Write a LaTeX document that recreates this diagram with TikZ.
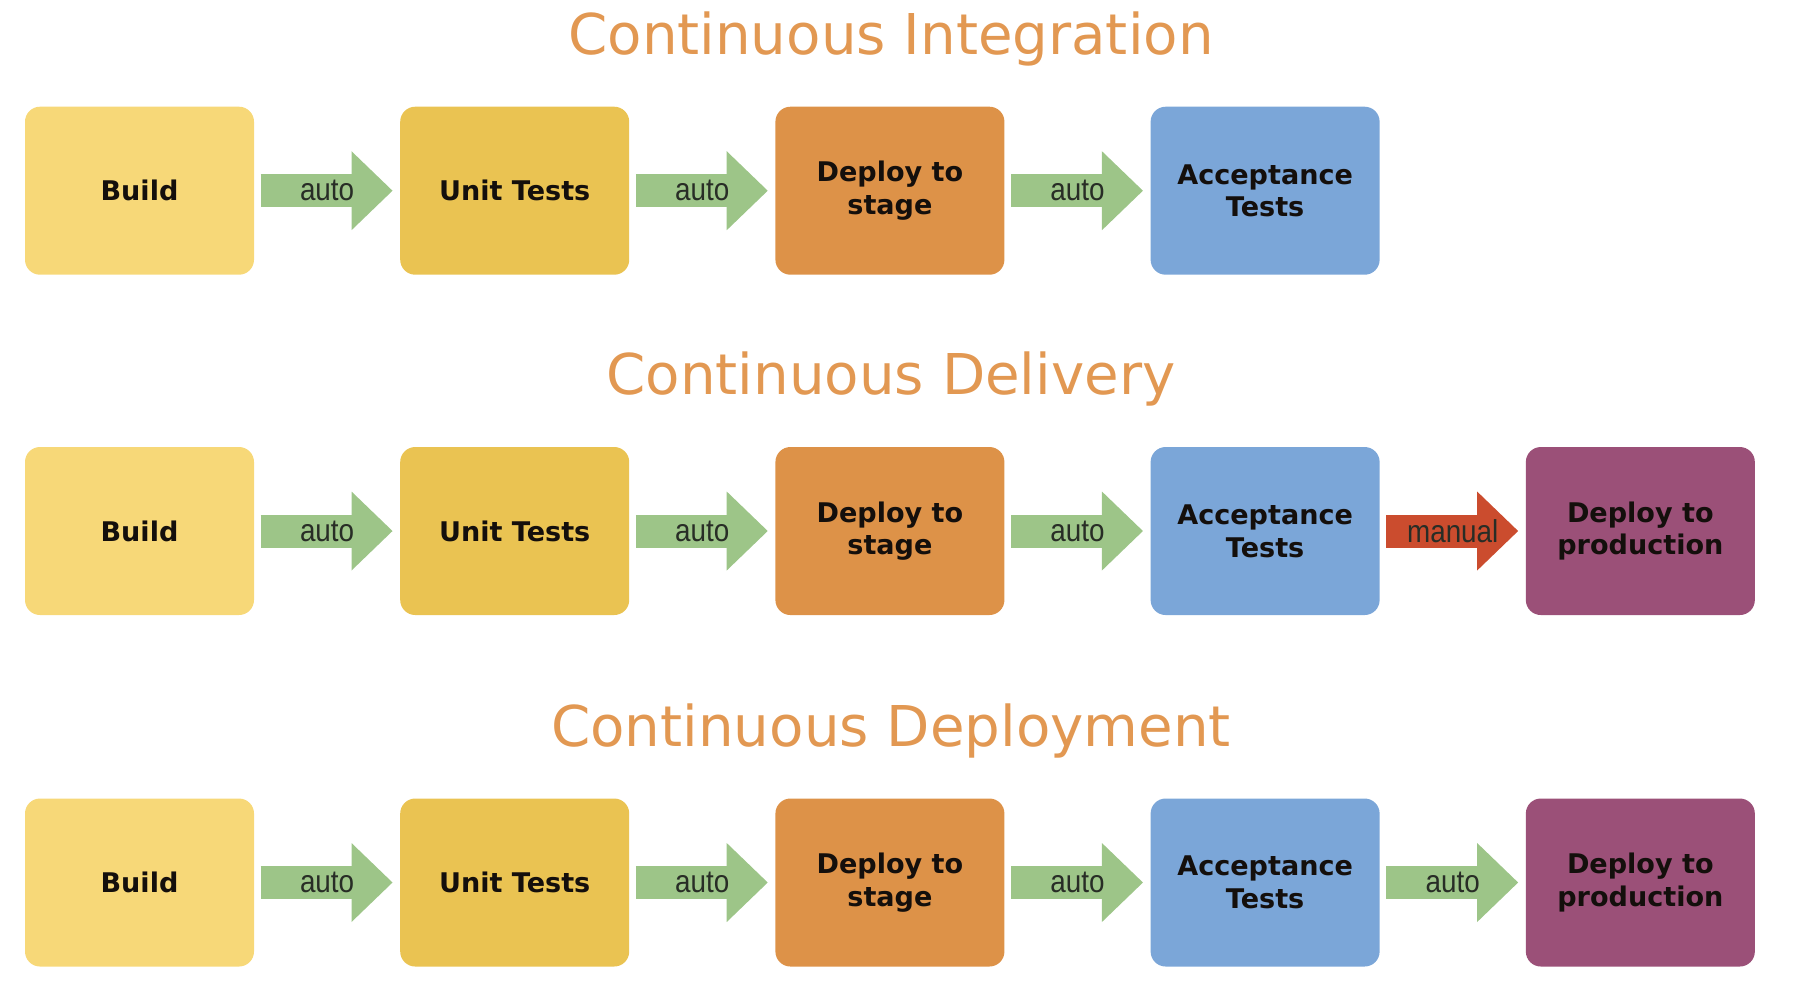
\documentclass[tikz,border=0pt]{standalone}
\usepackage{fontspec}
\usepackage{xcolor}
\usepackage{tikz}
\usetikzlibrary{arrows.meta,positioning}
\newfontfamily\titlefont{DejaVu Sans}
\newfontfamily\boxfont{DejaVu Sans}
\newfontfamily\autofont[FakeStretch=0.88]{Liberation Sans}
\definecolor{titleorange}{RGB}{226,152,82}
\definecolor{buildyellow}{RGB}{247,216,120}
\definecolor{unityellow}{RGB}{234,195,82}
\definecolor{stageorange}{RGB}{221,146,72}
\definecolor{acceptblue}{RGB}{123,166,216}
\definecolor{prodpurple}{RGB}{155,80,120}
\definecolor{arrowgreen}{RGB}{157,197,136}
\definecolor{manualred}{RGB}{203,76,46}
\definecolor{boxtext}{RGB}{20,15,12}
\definecolor{autotext}{RGB}{40,45,38}

\begin{document}
\begin{tikzpicture}[node distance=1.448cm,
  stage/.style={rounded corners=0.15cm, minimum width=2.29cm, minimum height=1.68cm, inner sep=0pt, align=center, text=boxtext, font=\boxfont\bfseries\fontsize{7.7}{9.3}\selectfont},
  heading/.style={anchor=base, text=titleorange, font=\titlefont\fontsize{16}{19}\selectfont},
  flow/.style={line width=0.33cm, shorten <=0.06cm, shorten >=0.07cm, -{Triangle[length=0.41cm, width=0.79cm, line width=0pt]}},
  lbl/.style={text=autotext, font=\autofont\fontsize{9}{10}\selectfont}]
\useasboundingbox (0,0) rectangle (17.96,-9.98);
\node[heading] (CI) at (8.91,-0.54) {Continuous Integration};
\node[stage, fill=buildyellow] (B1) at (1.395,-1.907) {Build};
\node[stage, fill=unityellow, right=of B1] (U1) {Unit Tests};
\node[stage, fill=stageorange, right=of U1] (S1) {Deploy to\\stage};
\node[stage, fill=acceptblue, right=of S1] (A1) {Acceptance\\Tests};
\draw[flow, arrowgreen] (B1) -- node[lbl] {auto} (U1);
\draw[flow, arrowgreen] (U1) -- node[lbl] {auto} (S1);
\draw[flow, arrowgreen] (S1) -- node[lbl] {auto} (A1);

\node[heading] (CDel) at (8.91,-3.945) {Continuous Delivery};
\node[stage, fill=buildyellow] (B2) at (1.395,-5.31) {Build};
\node[stage, fill=unityellow, right=of B2] (U2) {Unit Tests};
\node[stage, fill=stageorange, right=of U2] (S2) {Deploy to\\stage};
\node[stage, fill=acceptblue, right=of S2] (A2) {Acceptance\\Tests};
\node[stage, fill=prodpurple, right=of A2] (P2) {Deploy to\\production};
\draw[flow, arrowgreen] (B2) -- node[lbl] {auto} (U2);
\draw[flow, arrowgreen] (U2) -- node[lbl] {auto} (S2);
\draw[flow, arrowgreen] (S2) -- node[lbl] {auto} (A2);
\draw[flow, manualred] (A2) -- node[lbl] {manual} (P2);

\node[heading] (CDep) at (8.91,-7.46) {Continuous Deployment};
\node[stage, fill=buildyellow] (B3) at (1.395,-8.825) {Build};
\node[stage, fill=unityellow, right=of B3] (U3) {Unit Tests};
\node[stage, fill=stageorange, right=of U3] (S3) {Deploy to\\stage};
\node[stage, fill=acceptblue, right=of S3] (A3) {Acceptance\\Tests};
\node[stage, fill=prodpurple, right=of A3] (P3) {Deploy to\\production};
\draw[flow, arrowgreen] (B3) -- node[lbl] {auto} (U3);
\draw[flow, arrowgreen] (U3) -- node[lbl] {auto} (S3);
\draw[flow, arrowgreen] (S3) -- node[lbl] {auto} (A3);
\draw[flow, arrowgreen] (A3) -- node[lbl] {auto} (P3);
\end{tikzpicture}
\end{document}
